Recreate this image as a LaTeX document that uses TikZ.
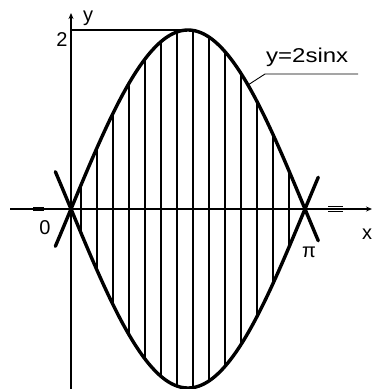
\documentclass[tikz,border=0pt]{standalone}
\usepackage{fontspec}
\setmainfont{Liberation Sans}
\usetikzlibrary{arrows.meta}
\begin{document}
\begin{tikzpicture}[x=1pt,y=-1pt,
  curve/.style={line width=3.4pt, line cap=round},
  hatch/.style={line width=1.1pt},
  axis/.style={line width=1.3pt},
  lbl/.style={font=\fontsize{20}{24}\selectfont, inner sep=0pt}]
\useasboundingbox (0,0) rectangle (374,389);
\fill[white] (0,0) rectangle (374,389);
% hatching
\foreach \k in {0,...,13} {
  \pgfmathsetmacro\xp{81+16*\k}
  \pgfmathsetmacro\h{179*sin(deg((\xp-71)/74.48))}
  \draw[hatch] (\xp,209-\h) -- (\xp,209+\h);
}
% axes
\coordinate (xs) at (10,209);
\coordinate (xe) at (372,209);
\coordinate (ys) at (71,389);
\coordinate (ye) at (71,13);
\draw[axis,-{Stealth[length=6pt,width=5pt]}] (xs) -- (xe);
\draw[axis,-{Stealth[length=6pt,width=5pt]}] (ys) -- (ye);
% marks on x axis
\fill (33,207) rectangle (44,211);
\draw[line width=1.5pt] (328,206.5) -- (343,206.5) (328,211.5) -- (343,211.5);
% top level line
\coordinate (t0) at (71,30);
\coordinate (peak) at (188,30);
\draw[axis] (t0) -- (peak);
% curves
\draw[curve] plot[domain=-0.21:3.32,samples=120,smooth] ({71+74.48*\x},{209-179*sin(\x r)});
\draw[curve] plot[domain=-0.21:3.32,samples=120,smooth] ({71+74.48*\x},{209+179*sin(\x r)});
% labels
\node[lbl] (two) at (62,40) {2};
\node[lbl] (ylab) at (88,18.5) {y};
\node[lbl] (zero) at (45,228) {0};
\node[lbl] (pi) at (309,252) {π};
\node[lbl] (xlab) at (367,234) {x};
\node[lbl, anchor=base west] (fn) at (266,62) {\scalebox{1.2}[1]{y=2sinx}};
% leader
\coordinate (cp) at (248,85);
\coordinate (lk) at (265,74);
\coordinate (le) at (358,74);
\draw[line width=0.9pt] (cp) -- (lk) -- (le);
\end{tikzpicture}
\end{document}
